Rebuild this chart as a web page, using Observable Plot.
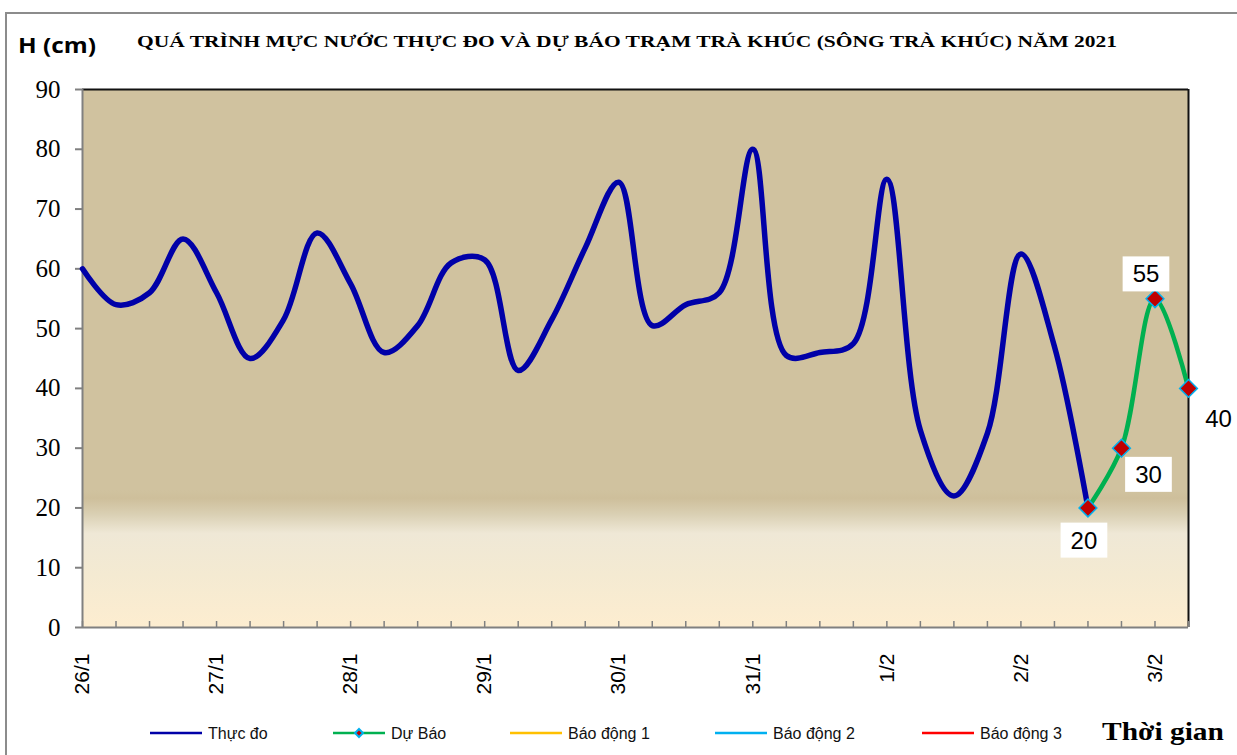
<!DOCTYPE html>
<html>
<head>
<meta charset="utf-8">
<script src="https://cdn.jsdelivr.net/npm/d3@7"></script>
<script src="https://cdn.jsdelivr.net/npm/@observablehq/plot@0.6"></script>
<style>
html, body { margin: 0; padding: 0; background: #fff; }
#wrap { position: relative; width: 1237px; height: 755px; overflow: hidden; }
#border { position: absolute; left: 5px; top: 12px; width: 1300px; height: 800px; border: 2px solid #8c8c8c; box-sizing: border-box; }
#head { position: absolute; left: 0; top: 0; }
#chart { position: absolute; left: 0; top: 70px; }
#legend { position: absolute; left: 0; top: 712px; }
</style>
</head>
<body>
<div id="wrap">
  <div id="border"></div>
  <svg id="head" width="1237" height="70"></svg>
  <div id="chart"></div>
  <svg id="legend" width="1237" height="43"></svg>
</div>
<script>
// ---------- data ----------
const titleText = "QUÁ TRÌNH MỰC NƯỚC THỰC ĐO VÀ DỰ BÁO TRẠM TRÀ KHÚC (SÔNG TRÀ KHÚC) NĂM 2021";
const yTitle = "H (cm)";
const xTitle = "Thời gian";
const dayLabels = ["26/1", "27/1", "28/1", "29/1", "30/1", "31/1", "1/2", "2/2", "3/2"];
const yTicks = [0, 10, 20, 30, 40, 50, 60, 70, 80, 90];
// observed water level, every 6 hours from 26/1 00h
const observedValues = [60, 54, 56, 65, 56, 45, 51.5, 66, 57.5, 46, 50.5, 61, 61.5, 43, 51.5, 63.5,
  74.5, 50.5, 54, 56, 80, 45.5, 46, 47.5, 75, 33, 22, 32.5, 62.5, 47, 20];
// forecast, every 6 hours from 2/2 12h
const forecastValues = [20, 30, 55, 40];
const forecastStartHour = 180;
const stepHours = 6;
const endHour = 198;
const legendLabels = ["Thực đo", "Dự Báo", "Báo động 1", "Báo động 2", "Báo động 3"];
const legendColors = ["#0000A8", "#00B050", "#FFC000", "#00B0F0", "#FF0000"];

// ---------- tables ----------
const observed = observedValues.map((v, i) => ({t: i * stepHours, v}));
const forecast = forecastValues.map((v, i) => ({t: forecastStartHour + i * stepHours, v}));
const hourTicks = d3.range(0, endHour + 1, stepHours);
const dayTicks = dayLabels.map((d, i) => i * 24);

// ---------- header ----------
const head = d3.select("#head");
head.append("text").attr("x", 18).attr("y", 53)
  .attr("font-family", "'Open Sans', 'Liberation Sans', sans-serif").attr("font-weight", "bold")
  .attr("font-size", 21).attr("textLength", 78).attr("lengthAdjust", "spacingAndGlyphs")
  .text(yTitle);
head.append("text").attr("x", 137).attr("y", 47)
  .attr("font-family", "'Liberation Serif', serif").attr("font-weight", "bold")
  .attr("font-size", 17).attr("textLength", 980).attr("lengthAdjust", "spacingAndGlyphs")
  .text(titleText);

// ---------- chart ----------
const SANS = "'Liberation Sans', Arial, sans-serif";
const SERIF = "'Liberation Serif', 'Times New Roman', serif";
const labelOpts = {x: "t", y: "v", text: d => String(d.v), fontSize: 24, fontFamily: SANS, fill: "black"};

const chart = Plot.plot({
  width: 1237,
  height: 640,
  marginTop: 19,
  marginBottom: 83,
  marginLeft: 82,
  marginRight: 49,
  style: {background: "transparent", overflow: "visible"},
  x: {domain: [0, endHour], axis: null},
  y: {domain: [0, 90], axis: null},
  marks: [
    Plot.frame({fill: "url(#bgGrad)"}),
    Plot.ruleY([90], {stroke: "#111", strokeWidth: 2}),
    Plot.ruleX([endHour], {stroke: "#111", strokeWidth: 2}),
    Plot.ruleX([0], {stroke: "#808080", strokeWidth: 2}),
    Plot.ruleY([0], {stroke: "#808080", strokeWidth: 2}),
    Plot.axisX({ticks: hourTicks, tickSize: 6, insetBottom: 6, tickFormat: () => "", label: null,
      stroke: "#808080", strokeWidth: 1.5}),
    Plot.axisX({ticks: dayTicks, tickSize: 0, tickPadding: 26, tickRotate: -90, label: null,
      tickFormat: d => dayLabels[Math.round(d / 24)], fontSize: 21, fontFamily: SANS, fill: "black"}),
    Plot.axisY({ticks: yTicks, tickSize: 7, tickFormat: () => "", label: null,
      stroke: "#808080", strokeWidth: 2}),
    Plot.text(yTicks, {y: d => d, text: d => String(d), frameAnchor: "left", dx: -22, textAnchor: "end",
      fontSize: 25, fontFamily: SERIF, fill: "black"}),
    Plot.line(observed, {x: "t", y: "v", curve: "catmull-rom", stroke: legendColors[0], strokeWidth: 5.5}),
    Plot.line(forecast, {x: "t", y: "v", curve: "catmull-rom", stroke: legendColors[1], strokeWidth: 4.5}),
    Plot.dot(forecast, {x: "t", y: "v", symbol: "diamond2", r: 8, fill: "#C00000", stroke: "#00B0F0", strokeWidth: 1.5}),
    Plot.text(forecast.filter((d, i) => i === 0), {...labelOpts, dx: -4, dy: 33}),
    Plot.text(forecast.filter((d, i) => i === 1), {...labelOpts, dx: 27, dy: 27}),
    Plot.text(forecast.filter((d, i) => i === 2), {...labelOpts, dx: -9, dy: -24}),
    Plot.text(forecast.filter((d, i) => i === 3), {...labelOpts, dx: 30, dy: 31})
  ]
});
document.getElementById("chart").appendChild(chart);

// background gradient
const defs = d3.select(chart).insert("defs", ":first-child");
const grad = defs.append("linearGradient").attr("id", "bgGrad")
  .attr("x1", 0).attr("y1", 0).attr("x2", 0).attr("y2", 1);
[[0, "#D0C29F"], [0.745, "#D0C29F"], [0.76, "#CEBF9B"], [0.79, "#DAD0B4"], [0.825, "#EFE8D6"],
 [0.9, "#F4EAD2"], [1, "#FDEDD0"]].forEach(([o, c]) =>
  grad.append("stop").attr("offset", o).attr("stop-color", c));

// white boxes behind the forecast data labels (sans-serif text marks only)
const forecastStrings = forecastValues.map(String);
d3.select(chart).selectAll('g[aria-label="text"]').each(function () {
  const ff = this.getAttribute("font-family") || "";
  if (ff.includes("Serif")) return;
  d3.select(this).selectAll("text").each(function () {
    if (!forecastStrings.includes(this.textContent)) return;
    const b = this.getBBox();
    if (!b.width) return;
    const r = document.createElementNS("http://www.w3.org/2000/svg", "rect");
    r.setAttribute("x", b.x - 10);
    r.setAttribute("y", b.y - 4);
    r.setAttribute("width", b.width + 20);
    r.setAttribute("height", b.height + 8);
    r.setAttribute("fill", "white");
    const tr = this.getAttribute("transform");
    if (tr) r.setAttribute("transform", tr);
    this.parentNode.insertBefore(r, this);
  });
});

// ---------- legend ----------
const legend = d3.select("#legend");
const legendX = [150, 333, 510, 715, 922];
legendLabels.forEach((lab, i) => {
  const x0 = legendX[i];
  legend.append("line").attr("x1", x0).attr("x2", x0 + 52).attr("y1", 21).attr("y2", 21)
    .attr("stroke", legendColors[i]).attr("stroke-width", 2.5);
  if (i === 1) {
    legend.append("path").attr("d", d3.symbol(d3.symbolDiamond2, 40)())
      .attr("transform", `translate(${x0 + 26},21)`)
      .attr("fill", "#C00000").attr("stroke", "#00B0F0").attr("stroke-width", 2);
  }
  legend.append("text").attr("x", x0 + 58).attr("y", 27)
    .attr("font-family", SANS).attr("font-size", 16).attr("fill", "#111").text(lab);
});
legend.append("text").attr("x", 1102).attr("y", 28)
  .attr("font-family", SERIF).attr("font-weight", "bold").attr("font-size", 25)
  .attr("textLength", 122).attr("lengthAdjust", "spacingAndGlyphs").text(xTitle);
</script>
</body>
</html>
